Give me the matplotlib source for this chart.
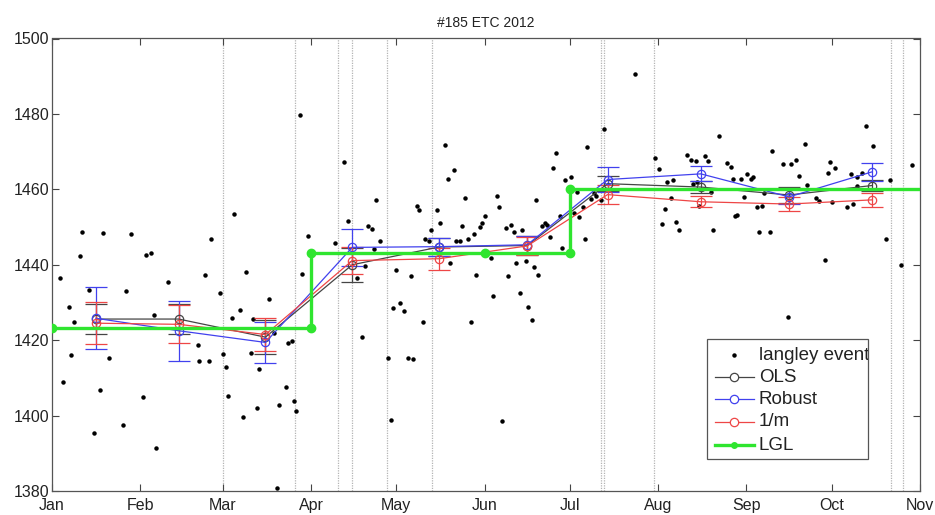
import matplotlib
matplotlib.use("Agg")
import matplotlib.pyplot as plt
from matplotlib.patches import Rectangle
from matplotlib.lines import Line2D
from matplotlib.transforms import Bbox, TransformedBbox

plt.rcParams['font.family'] = ['Liberation Sans', 'DejaVu Sans']

# x values are day of year 2012 (Jan 1 = 0)
month_days = [0, 31, 60, 91, 121, 152, 182, 213, 244, 274, 305]
month_labels = ['Jan', 'Feb', 'Mar', 'Apr', 'May', 'Jun', 'Jul', 'Aug', 'Sep', 'Oct', 'Nov']
y_ticks = [1380, 1400, 1420, 1440, 1460, 1480, 1500]

# individual langley events
event_day = [
    10.6, 17.8, 27.7, 9.8, 33.1, 34.9, 2.8, 40.8, 12.9, 26.0, 6.1, 36.0, 7.9, 51.2, 51.6,
    6.8, 19.9, 3.8, 17.0, 31.9, 25.0, 14.8, 36.7,
    87.0, 102.6, 63.9, 55.7, 89.8, 99.3, 53.8, 68.1, 87.8, 59.2, 76.1, 65.9, 63.2, 70.8,
    78.0, 83.1, 84.4, 55.0, 60.1, 69.9, 61.2, 72.8, 82.1, 62.0, 85.1, 79.8, 72.2, 85.8,
    67.1, 79.1,
    138.1, 141.3, 139.1, 113.9, 145.2, 128.4, 129.0, 135.2, 152.0, 103.9, 136.2, 111.1,
    112.3, 144.2, 151.0, 150.4, 133.1, 131.1, 132.3, 115.1, 142.1, 143.2, 146.0, 148.3,
    113.0, 110.0, 107.2, 120.9, 126.0, 140.0, 149.1, 119.8, 122.3, 123.8, 130.3, 147.1,
    109.0, 118.1, 125.2, 126.9, 119.1,
    194.0, 187.9, 177.2, 176.1, 180.1, 182.3, 156.5, 157.0, 170.1, 184.6, 159.6, 161.2,
    165.2, 162.4, 172.2, 173.4, 174.1, 174.9, 178.6, 183.3, 185.1, 186.5, 189.3, 191.2,
    190.3, 192.8, 187.2, 179.3, 154.2, 163.1, 166.6, 169.2, 160.3, 170.8, 164.3, 154.9,
    167.3, 168.5, 158.2, 204.8,
    234.4, 253.1, 212.0, 223.2, 224.4, 226.2, 229.3, 230.5, 213.4, 237.3, 238.5, 244.3,
    245.5, 246.3, 239.3, 242.0, 216.2, 218.1, 225.3, 231.4, 226.5, 250.2, 243.2, 217.4,
    247.6, 249.4, 215.5, 227.3, 240.8, 240.1, 214.5, 219.3, 220.3, 232.1, 248.4, 252.4,
    286.1, 264.5, 288.5, 302.3, 256.7, 259.6, 261.6, 273.3, 275.2, 272.6, 262.5, 280.6,
    283.0, 284.6, 294.4, 265.2, 283.0, 268.4, 269.5, 274.2, 281.5, 279.5, 293.0, 271.6,
    298.4, 258.6,
]
event_value = [
    1448.8, 1448.5, 1448.2, 1442.3, 1442.5, 1443.0, 1436.4, 1435.4, 1433.4, 1433.0, 1428.9,
    1426.8, 1424.7, 1418.7, 1414.6, 1416.0, 1415.3, 1408.8, 1406.8, 1405.0, 1397.6, 1395.3,
    1391.4,
    1479.7, 1467.3, 1453.4, 1446.9, 1447.5, 1445.8, 1437.3, 1438.2, 1437.5, 1432.5, 1430.8,
    1428.0, 1425.9, 1425.5, 1421.8, 1419.3, 1419.7, 1414.4, 1416.4, 1416.5, 1412.8, 1412.4,
    1407.5, 1405.1, 1403.9, 1402.8, 1401.9, 1401.1, 1399.7, 1380.7,
    1471.8, 1465.0, 1462.7, 1457.3, 1457.8, 1455.7, 1454.5, 1454.5, 1453.0, 1451.7, 1451.0,
    1450.2, 1449.5, 1450.2, 1451.1, 1450.0, 1449.1, 1446.7, 1446.2, 1446.2, 1446.4, 1446.2,
    1446.7, 1448.2, 1444.1, 1439.6, 1436.4, 1438.7, 1437.0, 1440.5, 1437.3, 1428.6, 1429.8,
    1427.8, 1424.7, 1424.7, 1420.9, 1415.4, 1415.2, 1415.0, 1398.9,
    1475.9, 1471.2, 1469.6, 1465.6, 1462.6, 1463.2, 1458.1, 1455.2, 1457.3, 1459.2, 1449.7,
    1450.5, 1449.3, 1448.6, 1450.4, 1451.2, 1450.6, 1447.3, 1452.8, 1453.8, 1452.6, 1455.3,
    1457.4, 1458.1, 1459.0, 1457.1, 1446.8, 1444.5, 1441.7, 1440.5, 1441.1, 1439.5, 1437.1,
    1437.3, 1432.5, 1431.6, 1428.7, 1425.4, 1398.6, 1490.6,
    1474.2, 1470.2, 1468.3, 1469.0, 1467.9, 1467.5, 1468.9, 1467.4, 1465.4, 1467.1, 1465.8,
    1464.1, 1462.7, 1463.2, 1462.7, 1462.7, 1461.9, 1462.4, 1461.3, 1459.3, 1461.9, 1459.0,
    1458.0, 1457.7, 1455.2, 1455.7, 1454.9, 1455.6, 1453.3, 1452.8, 1450.7, 1451.3, 1449.3,
    1449.3, 1448.7, 1448.7,
    1476.8, 1472.0, 1471.4, 1466.5, 1466.8, 1466.6, 1467.7, 1467.2, 1465.7, 1464.2, 1463.5,
    1464.1, 1463.3, 1464.2, 1462.6, 1461.1, 1461.0, 1457.7, 1456.9, 1456.7, 1456.2, 1455.3,
    1446.7, 1441.3, 1440.0, 1426.2,
]

# monthly fits
fit_day = [15.5, 44.5, 75, 105.5, 136, 167, 195.2, 228, 259, 288]
ols = [1425.6, 1425.6, 1420.8, 1440.0, 1444.7, 1445.1, 1461.5, 1460.6, 1458.5, 1461.0]
ols_err = [4.0, 4.0, 4.5, 4.5, 2.5, 2.5, 2.0, 1.6, 2.0, 1.5]
robust = [1425.8, 1422.5, 1419.4, 1444.6, 1444.8, 1445.3, 1462.6, 1464.1, 1458.0, 1464.6]
robust_err = [8.2, 8.0, 5.4, 5.0, 2.4, 2.4, 3.3, 2.0, 2.0, 2.4]
inv_m = [1424.5, 1424.2, 1421.5, 1441.1, 1441.6, 1445.0, 1458.6, 1456.7, 1456.1, 1457.2]
inv_m_err = [5.5, 5.0, 4.4, 3.5, 2.9, 2.4, 2.6, 1.4, 1.9, 1.8]

# LGL calibration steps
lgl_day = [0, 91, 91, 152, 182, 182, 335]
lgl_value = [1423.2, 1423.2, 1443.1, 1443.1, 1443.1, 1460.2, 1460.2]

# instrument event markers
marker_day = [60.1, 85.5, 100.6, 105.5, 117.8, 133.6, 192.8, 193.9, 211.5, 294.8, 298.9]

fig = plt.figure(figsize=(9.35, 5.15), dpi=100)
ax = fig.add_axes([52 / 935, 1 - 491 / 515, 868 / 935, 452.5 / 515])

for d in marker_day:
    ax.axvline(d, color='#b4b4b4', lw=0.9, ls=(0, (1, 1)), zorder=1)

ax.plot(event_day, event_value, ls='none', marker='o', ms=2.2, color='black',
        mec='black', zorder=3)

series = [
    (ols, ols_err, '#454545'),
    (robust, robust_err, '#4141ee'),
    (inv_m, inv_m_err, '#ee4646'),
]
for vals, errs, col in series:
    ax.errorbar(fit_day, vals, yerr=errs, color=col, lw=0.9, elinewidth=0.9,
                capsize=8, capthick=0.9, marker='o', ms=6, mfc='none', mec=col,
                mew=0.9, zorder=4)

ax.plot(lgl_day, lgl_value, color='#2fe52f', lw=2.4, marker='o', ms=6,
        mfc='#2fe52f', mec='#2fe52f', zorder=5)

ax.set_xlim(0, 305)
ax.set_ylim(1380, 1500)
ax.set_xticks(month_days)
ax.set_xticklabels(month_labels)
ax.set_yticks(y_ticks)
ax.tick_params(direction='in', length=5, width=0.8, color='#444444', labelsize=11.5,
               top=True, right=True, labelcolor='#222222', pad=2)
ax.tick_params(axis='x', pad=5)
for s in ax.spines.values():
    s.set_color('#555555')
    s.set_linewidth(0.9)

ax.set_title('#185 ETC 2012', fontsize=10, pad=8, color='#222222')

# legend box with entries, text clipped to the frame
bx0, bx1 = (707 - 52) / 868, (868 - 52) / 868
by0, by1 = (491 - 459) / 452.5, (491 - 339) / 452.5
frame = Rectangle((bx0, by0), bx1 - bx0, by1 - by0, transform=ax.transAxes,
                  facecolor='white', edgecolor='#555555', lw=0.9, zorder=10)
ax.add_patch(frame)
clip = TransformedBbox(Bbox([[bx0, by0], [bx1, by1]]), ax.transAxes)

rows_y = [(491 - p) / 452.5 for p in (355, 377.3, 399.3, 421.7, 445)]
lx0, lx1, lxm, tx = (715 - 52) / 868, (754 - 52) / 868, (734 - 52) / 868, (759 - 52) / 868
legend_labels = ['langley event', 'OLS', 'Robust', '1/m', 'LGL']
legend_colors = ['black', '#454545', '#4141ee', '#ee4646', '#2fe52f']
for i, (lab, col, yy) in enumerate(zip(legend_labels, legend_colors, rows_y)):
    if i == 0:
        ax.add_line(Line2D([lxm], [yy], transform=ax.transAxes, ls='none', marker='o',
                           ms=2.2, color='black', zorder=11))
    elif i < 4:
        ax.add_line(Line2D([lx0, lx1], [yy, yy], transform=ax.transAxes, color=col,
                           lw=0.9, zorder=11))
        ax.add_line(Line2D([lxm], [yy], transform=ax.transAxes, ls='none', marker='o',
                           ms=6, mfc='white', mec=col, mew=0.9, zorder=12))
    else:
        ax.add_line(Line2D([lx0, lx1], [yy, yy], transform=ax.transAxes, color=col,
                           lw=2.4, zorder=11))
        ax.add_line(Line2D([lxm], [yy], transform=ax.transAxes, ls='none', marker='o',
                           ms=4, mfc=col, mec=col, zorder=12))
    t = ax.text(tx, yy, lab, transform=ax.transAxes, fontsize=13.5, va='center',
                ha='left', color='#222222', zorder=13)
    t.set_clip_on(True)
    t.set_clip_box(clip)

fig.savefig('out.png', dpi=100)
